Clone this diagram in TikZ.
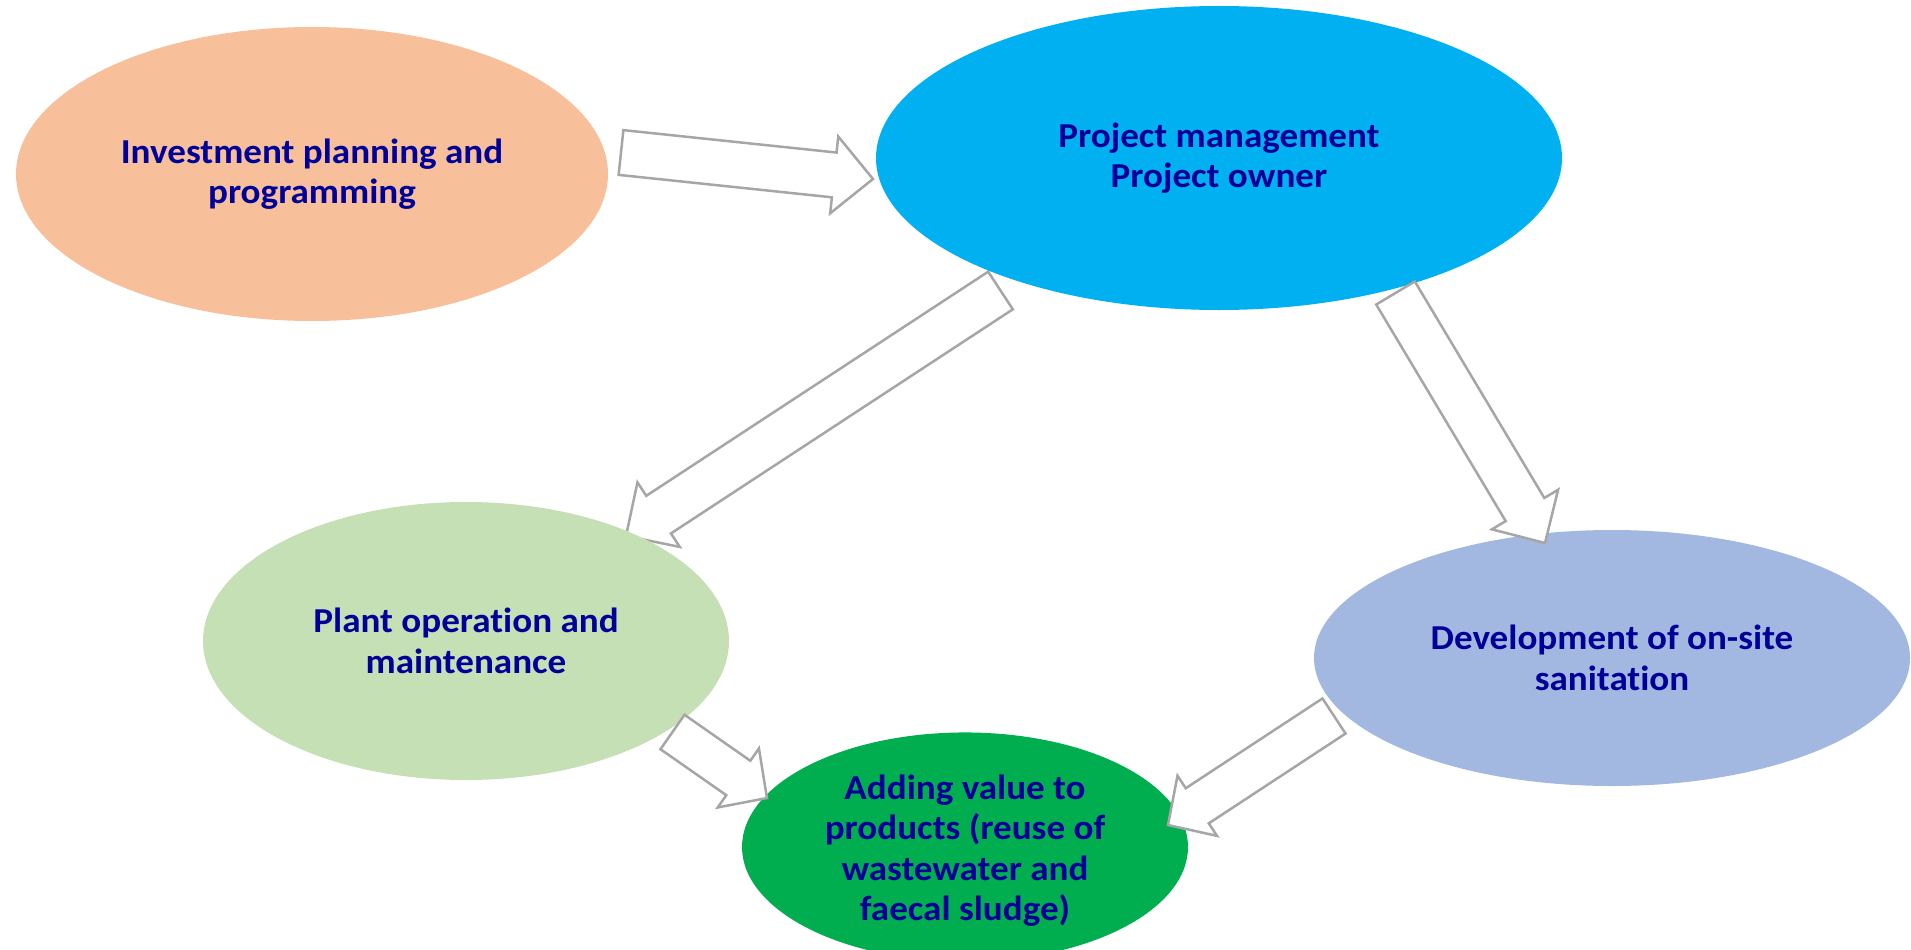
\documentclass[tikz,border=0pt]{standalone}
\usepackage{fontspec}
\setmainfont{Carlito}[FakeStretch=1.06, Ligatures={NoCommon}]
\usetikzlibrary{shapes.geometric,calc}

\definecolor{planorange}{HTML}{F7BF9A}
\definecolor{pmblue}{HTML}{00B0F0}
\definecolor{opsgreen}{HTML}{C5E0B4}
\definecolor{devblue}{HTML}{A2B8E1}
\definecolor{valuegreen}{HTML}{00AE4F}
\definecolor{labelblue}{HTML}{000099}
\definecolor{arrowgray}{HTML}{A6A6A6}

\tikzset{
  bubble/.style={ellipse, inner sep=0pt, text=labelblue,
    font=\bfseries\fontsize{35}{40.5}\selectfont, align=center},
  flowarrow/.style={draw=arrowgray, fill=white, line width=2.5pt, line join=miter}
}

% hollow block arrow: #1 name, #2 tail, #3 tip,
% #4 shaft half width, #5 head half width, #6 head length
\newcommand\blockarrow[6]{%
  \coordinate (#1-h) at ($(#3)!#6!(#2)$);
  \draw[flowarrow]
    ($(#2)!#4!90:(#3)$) -- ($(#1-h)!#4!-90:(#2)$) -- ($(#1-h)!#5!-90:(#2)$)
    -- (#3)
    -- ($(#1-h)!#5!90:(#2)$) -- ($(#1-h)!#4!90:(#2)$) -- ($(#2)!#4!-90:(#3)$)
    -- cycle;
}

\begin{document}
\begin{tikzpicture}[x=1pt, y=-1pt]
\useasboundingbox (0,0) rectangle (1911,950);
\clip (0,0) rectangle (1911,950);

% arrow ends
\coordinate (a1s) at (621,152.5);  \coordinate (a1e) at (873,179);
\coordinate (a2s) at (1000.5,290.5); \coordinate (a2e) at (626,536);
\coordinate (a3s) at (1395.5,293); \coordinate (a3e) at (1545,543);
\coordinate (a4s) at (672.5,732);  \coordinate (a4e) at (767,798);
\coordinate (a5s) at (1334,716);   \coordinate (a5e) at (1168,825);

% this arrow runs beneath the operation ellipse
\blockarrow{a2}{a2s}{a2e}{22.5pt}{38.6pt}{39pt}

\node[bubble, fill=planorange, minimum width=592pt, minimum height=294pt]
  (plan) at (312,174) {Investment planning and\\programming};
\node[bubble, fill=pmblue, minimum width=686pt, minimum height=304pt]
  (pm) at (1219,158) {Project management\\Project owner};
\node[bubble, fill=opsgreen, minimum width=526pt, minimum height=278pt]
  (ops) at (466,641) {Plant operation and\\maintenance};
\node[bubble, fill=devblue, minimum width=596pt, minimum height=256pt]
  (dev) at (1612,658) {Development of on-site\\sanitation};
\node[bubble, fill=valuegreen, minimum width=446pt, minimum height=202pt]
  (value) at (965,847) {\raisebox{-5pt}[\height][\depth]{\begin{tabular}{@{}c@{}}Adding value to\\products (reuse of\\wastewater and\\faecal sludge)\end{tabular}}};

\blockarrow{a1}{a1s}{a1e}{22.5pt}{38.6pt}{39pt}
\blockarrow{a3}{a3s}{a3e}{22.5pt}{38.6pt}{39pt}
\blockarrow{a4}{a4s}{a4e}{21pt}{36pt}{35pt}
\blockarrow{a5}{a5s}{a5e}{21pt}{36pt}{35pt}
\end{tikzpicture}
\end{document}
